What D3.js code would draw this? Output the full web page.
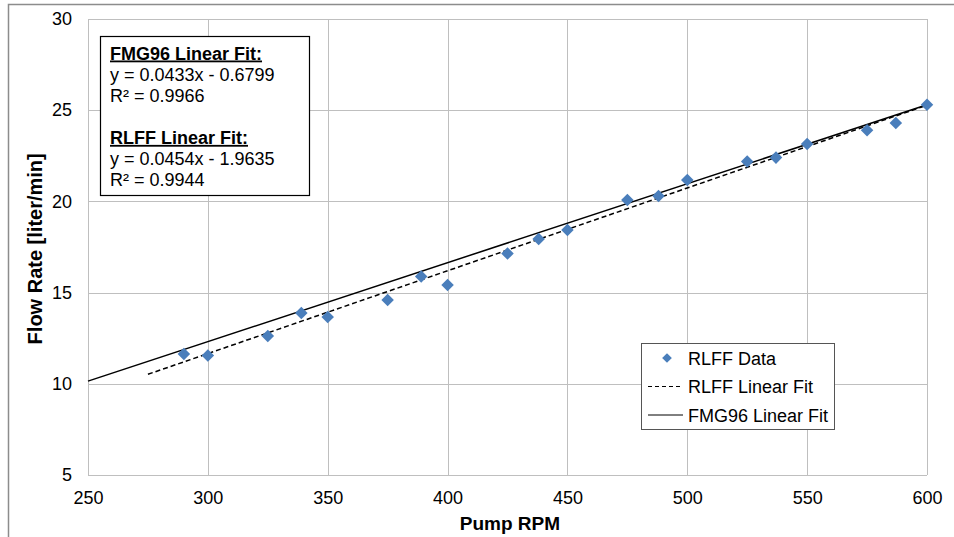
<!DOCTYPE html>
<html>
<head>
<meta charset="utf-8">
<script src="https://cdn.jsdelivr.net/npm/d3@7"></script>
<style>
  html, body { margin: 0; padding: 0; background: #fff; }
  svg { display: block; font-family: "Liberation Sans", Arial, sans-serif; }
</style>
</head>
<body>
<svg id="chart" width="954" height="537"></svg>
<script>
// Data
const rpm = [290, 300, 325, 339, 350, 375, 389, 400, 425, 438, 450, 475, 488, 500, 525, 537, 550, 575, 587, 600];
const flow = [11.63, 11.55, 12.62, 13.88, 13.66, 14.6, 15.88, 15.42, 17.14, 17.94, 18.43, 20.08, 20.3, 21.17, 22.19, 22.4, 23.15, 23.9, 24.3, 25.3];

// Linear fits: [slope, intercept], plotted range
const fmgFit = [0.0433, -0.6799];
const fmgRange = [250, 600];
const rlffFit = [0.0454, -1.9635];
const rlffRange = [275, 600];

const xTicks = [250, 300, 350, 400, 450, 500, 550, 600];
const yTicks = [5, 10, 15, 20, 25, 30];

const boxLines = [
  { text: 'FMG96 Linear Fit:', bold: true },
  { text: 'y = 0.0433x - 0.6799' },
  { text: 'R² = 0.9966' },
  { text: '' },
  { text: 'RLFF Linear Fit:', bold: true },
  { text: 'y = 0.0454x - 1.9635' },
  { text: 'R² = 0.9944' }
];
const legendItems = ['RLFF Data', 'RLFF Linear Fit', 'FMG96 Linear Fit'];

const svg = d3.select('#chart');
const plot = { left: 88, right: 927, top: 19, bottom: 475 };

const x = d3.scaleLinear().domain([250, 600]).range([plot.left, plot.right]);
const y = d3.scaleLinear().domain([5, 30]).range([plot.bottom, plot.top]);

// Outer chart border
svg.append('rect')
  .attr('x', 8.5).attr('y', 4.5)
  .attr('width', 980).attr('height', 600)
  .attr('fill', 'none')
  .attr('stroke', '#8c8c8c')
  .attr('stroke-width', 1.5);

// Gridlines
const grid = svg.append('g').attr('stroke', '#bfbfbf').attr('stroke-width', 1);
grid.selectAll('.vg').data(xTicks).enter().append('line')
  .attr('x1', d => Math.round(x(d)) + 0.5).attr('x2', d => Math.round(x(d)) + 0.5)
  .attr('y1', plot.top).attr('y2', plot.bottom);
grid.selectAll('.hg').data(yTicks).enter().append('line')
  .attr('x1', plot.left).attr('x2', plot.right)
  .attr('y1', d => Math.round(y(d)) + 0.5).attr('y2', d => Math.round(y(d)) + 0.5);

// Axes (labels only, Excel style)
const xAxis = svg.append('g')
  .attr('transform', `translate(0,${plot.bottom})`)
  .call(d3.axisBottom(x).tickValues(xTicks).tickSize(0).tickPadding(16));
const yAxis = svg.append('g')
  .attr('transform', `translate(${plot.left},0)`)
  .call(d3.axisLeft(y).tickValues(yTicks).tickSize(0).tickPadding(16));
[xAxis, yAxis].forEach(g => {
  g.select('.domain').remove();
  g.selectAll('text')
    .attr('font-family', '"Liberation Sans", Arial, sans-serif')
    .attr('font-size', 18)
    .attr('fill', '#000');
});

// Axis titles
svg.append('text')
  .attr('x', x(426)).attr('y', 530)
  .attr('text-anchor', 'middle')
  .attr('font-size', 19).attr('font-weight', 'bold')
  .text('Pump RPM');
svg.append('text')
  .attr('transform', `translate(42,${y(17.4)}) rotate(-90)`)
  .attr('text-anchor', 'middle')
  .attr('font-size', 20).attr('font-weight', 'bold')
  .text('Flow Rate [liter/min]');

// Fit lines
function fitLine(fit, range) {
  return range.map(v => [x(v), y(fit[0] * v + fit[1])]);
}
svg.append('path')
  .attr('d', d3.line()(fitLine(fmgFit, fmgRange)))
  .attr('fill', 'none').attr('stroke', '#000').attr('stroke-width', 1.5);
svg.append('path')
  .attr('d', d3.line()(fitLine(rlffFit, rlffRange)))
  .attr('fill', 'none').attr('stroke', '#000').attr('stroke-width', 1.5)
  .attr('stroke-dasharray', '5,3');

// Data points (diamonds)
const diamond = d3.symbol().type(d3.symbolDiamond2).size(100);
svg.append('g').selectAll('path')
  .data(rpm.map((r, i) => [r, flow[i]]))
  .enter().append('path')
  .attr('d', diamond)
  .attr('transform', d => `translate(${x(d[0])},${y(d[1])})`)
  .attr('fill', '#4a7ebb');

// Equation box
const box = svg.append('g');
box.append('rect')
  .attr('x', 100.5).attr('y', 36.5)
  .attr('width', 209).attr('height', 159)
  .attr('fill', '#fff').attr('stroke', '#000').attr('stroke-width', 1.2);
boxLines.forEach((l, i) => {
  box.append('text')
    .attr('x', 110).attr('y', 59.5 + i * 21.1)
    .attr('font-size', 18)
    .attr('font-weight', l.bold ? 'bold' : 'normal')
    .attr('text-decoration', l.bold ? 'underline' : null)
    .text(l.text);
});

// Legend
const leg = svg.append('g');
leg.append('rect')
  .attr('x', 641.5).attr('y', 343.5)
  .attr('width', 193).attr('height', 86)
  .attr('fill', '#fff').attr('stroke', '#555').attr('stroke-width', 1);
legendItems.forEach((label, i) => {
  const cy = 358 + i * 28.5;
  if (i === 0) {
    leg.append('path')
      .attr('d', d3.symbol().type(d3.symbolDiamond2).size(60))
      .attr('transform', `translate(667,${cy})`)
      .attr('fill', '#4a7ebb');
  } else {
    leg.append('line')
      .attr('x1', 648).attr('x2', i === 1 ? 680 : 683)
      .attr('y1', cy).attr('y2', cy)
      .attr('stroke', '#000').attr('stroke-width', 1)
      .attr('stroke-dasharray', i === 1 ? '4,3' : null);
  }
  leg.append('text')
    .attr('x', 688).attr('y', cy + 6.5)
    .attr('font-size', 18)
    .text(label);
});
</script>
</body>
</html>
